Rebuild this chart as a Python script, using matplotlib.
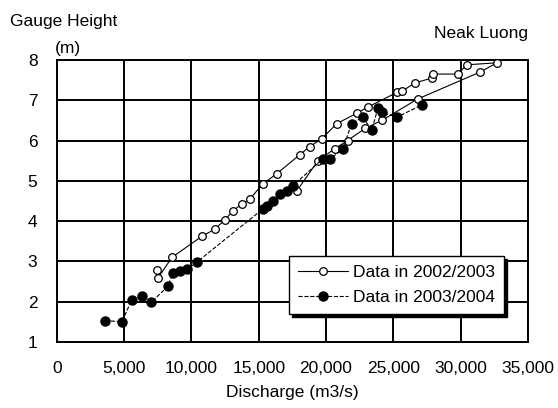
import matplotlib.pyplot as plt

plt.rcParams['font.family'] = ['Liberation Sans', 'DejaVu Sans']

# 2002/2003: rising limb then falling limb
q_2002 = [7430, 7500, 8550, 10770, 11740, 12480, 13080, 13750, 14340, 15300,
          16350, 18060, 18800, 19700, 20800, 22300, 23100, 25300, 25630,
          26600, 27860, 27940, 29800, 30460, 32700,
          31450, 26800, 24150, 22900, 21600, 20660, 19400, 17830]
h_2002 = [2.78, 2.58, 3.1, 3.62, 3.8, 4.03, 4.25, 4.43, 4.55, 4.92,
          5.18, 5.65, 5.85, 6.05, 6.42, 6.68, 6.83, 7.2, 7.22,
          7.43, 7.55, 7.65, 7.65, 7.88, 7.93,
          7.7, 7.03, 6.5, 6.3, 6.0, 5.8, 5.5, 4.75]

q_2003 = [3570, 4830, 5570, 6320, 6990, 8250, 8620, 9140, 9660, 10400,
          15300, 15600, 16050, 16570, 17100, 17550, 19770, 20290, 21250,
          21900, 22740, 23400, 23850, 24150, 25260, 27100]
h_2003 = [1.53, 1.5, 2.05, 2.13, 1.98, 2.38, 2.7, 2.75, 2.8, 2.98,
          4.3, 4.38, 4.5, 4.67, 4.75, 4.88, 5.55, 5.55, 5.78,
          6.42, 6.58, 6.25, 6.8, 6.7, 6.58, 6.88]

x_ticks = [0, 5000, 10000, 15000, 20000, 25000, 30000, 35000]
x_labels = ['0', '5,000', '10,000', '15,000', '20,000', '25,000', '30,000', '35,000']
y_ticks = [1, 2, 3, 4, 5, 6, 7, 8]

fs = 12.5

fig = plt.figure(figsize=(5.58, 4.08), dpi=100)
ax = fig.add_axes([0.102, 0.162, 0.844, 0.691])

ax.plot(q_2002, h_2002, '-', color='black', lw=0.8, marker='o', ms=5.5,
        mfc='white', mec='black', mew=0.9, label='Data in 2002/2003', zorder=3)
ax.plot(q_2003, h_2003, '--', color='black', lw=0.8, marker='o', ms=6.5,
        mfc='black', mec='black', label='Data in 2003/2004', zorder=3)

ax.set_xlim(0, 35000)
ax.set_ylim(1, 8)
ax.set_xticks(x_ticks)
ax.set_xticklabels(x_labels)
ax.set_yticks(y_ticks)
ax.tick_params(length=0, labelsize=fs)
ax.tick_params(axis='x', pad=14)
ax.tick_params(axis='y', pad=14)
ax.grid(True, color='black', lw=1.4)
for s in ax.spines.values():
    s.set_linewidth(1.4)

ax.set_xlabel('Discharge (m3/s)', fontsize=fs, labelpad=6)
fig.text(0.018, 0.948, 'Gauge Height', fontsize=fs, va='center')
fig.text(0.098, 0.882, '(m)', fontsize=fs, va='center')
fig.text(0.946, 0.917, 'Neak Luong', fontsize=fs, va='center', ha='right')

leg = ax.legend(loc='upper left', bbox_to_anchor=(0.493, 0.305), borderaxespad=0,
                fontsize=fs, frameon=True, fancybox=False, shadow={'color': 'black', 'alpha': 1},
                handlelength=2.9, handletextpad=0.3, borderpad=0.5, labelspacing=0.6)
leg.get_frame().set_edgecolor('black')
leg.get_frame().set_linewidth(1.0)
leg.get_frame().set_alpha(1)

fig.savefig('out.png', dpi=100)
